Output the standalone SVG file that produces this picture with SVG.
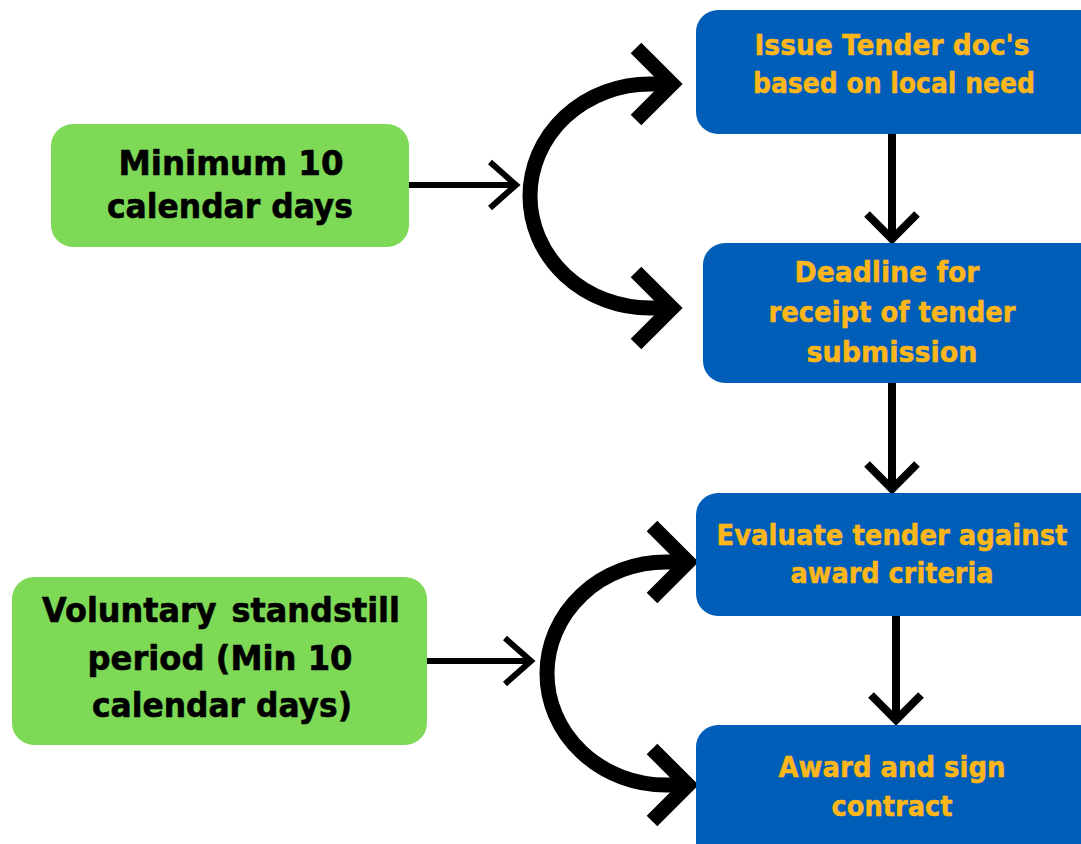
<svg xmlns="http://www.w3.org/2000/svg" width="1081" height="844" viewBox="0 0 1081 844">
<style>
.g{fill:#7ED957}
.b{fill:#005EB8}
.tg{font-family:"DejaVu Sans",Verdana,sans-serif;font-weight:bold;font-size:33px;fill:#000;stroke:#000;stroke-width:0.6;text-anchor:middle}
.tb{font-family:"DejaVu Sans",Verdana,sans-serif;font-weight:bold;font-size:29px;fill:#FDB71A;stroke:#FDB71A;stroke-width:0.5;text-anchor:middle}
.thin{fill:none;stroke:#000;stroke-width:6}
.vert{fill:none;stroke:#000;stroke-width:8}
.thick{fill:none;stroke:#000;stroke-width:15}
</style>
<rect width="1081" height="844" fill="#fff"/>
<g id="connectors">
  <path class="thin" d="M409 185 H516"/>
  <path class="thin" d="M490 162 L516 185 L490 208"/>
  <path class="thin" d="M427 661 H531"/>
  <path class="thin" d="M505 638 L531 661 L505 684"/>
  <path class="thick" d="M672 84 H650 A120 112 0 0 0 650 308 H672"/>
  <path class="thick" d="M636 48 L672 84 L636 120"/>
  <path class="thick" d="M636 272 L672 308 L636 344"/>
  <path class="thick" d="M688 562 H666 A119 111.5 0 0 0 666 785 H688"/>
  <path class="thick" d="M652 526 L688 562 L652 598"/>
  <path class="thick" d="M652 749 L688 785 L652 821"/>
  <path class="vert" d="M892 134 V238"/>
  <path class="vert" d="M867 214 L892 239 L917 214"/>
  <path class="vert" d="M892 383 V488"/>
  <path class="vert" d="M867 464 L892 489 L917 464"/>
  <path class="vert" d="M896 616 V719"/>
  <path class="vert" d="M871 695 L896 720 L921 695"/>
</g>
<g id="n1"><rect class="g" x="51" y="124" width="358" height="123" rx="22"/>
<text class="tg" x="231" y="175" textLength="225" lengthAdjust="spacingAndGlyphs">Minimum 10</text><text class="tg" x="230" y="218" textLength="246" lengthAdjust="spacingAndGlyphs">calendar days</text></g>
<g id="n2"><rect class="g" x="12" y="577" width="415" height="168" rx="22"/>
<text class="tg" x="221" y="622" word-spacing="4" textLength="358" lengthAdjust="spacingAndGlyphs">Voluntary standstill</text><text class="tg" x="220" y="670" textLength="265" lengthAdjust="spacingAndGlyphs">period (Min 10</text><text class="tg" x="222" y="717" textLength="260" lengthAdjust="spacingAndGlyphs">calendar days)</text></g>
<g id="n3"><rect class="b" x="696" y="10" width="410" height="124" rx="22"/>
<text class="tb" x="892" y="55" textLength="275" lengthAdjust="spacingAndGlyphs">Issue Tender doc's</text><text class="tb" x="894" y="93" textLength="282" lengthAdjust="spacingAndGlyphs">based on local need</text></g>
<g id="n4"><rect class="b" x="703" y="243" width="400" height="140" rx="22"/>
<text class="tb" x="887" y="282" textLength="185" lengthAdjust="spacingAndGlyphs">Deadline for</text><text class="tb" x="892" y="322" textLength="247" lengthAdjust="spacingAndGlyphs">receipt of tender</text><text class="tb" x="892" y="362" textLength="171" lengthAdjust="spacingAndGlyphs">submission</text></g>
<g id="n5"><rect class="b" x="696" y="493" width="410" height="123" rx="22"/>
<text class="tb" x="892" y="545" textLength="351" lengthAdjust="spacingAndGlyphs">Evaluate tender against</text><text class="tb" x="892" y="583" textLength="203" lengthAdjust="spacingAndGlyphs">award criteria</text></g>
<g id="n6"><rect class="b" x="696" y="725" width="410" height="140" rx="22"/>
<text class="tb" x="892" y="777" textLength="227" lengthAdjust="spacingAndGlyphs">Award and sign</text><text class="tb" x="892" y="816" textLength="121" lengthAdjust="spacingAndGlyphs">contract</text></g>
</svg>
